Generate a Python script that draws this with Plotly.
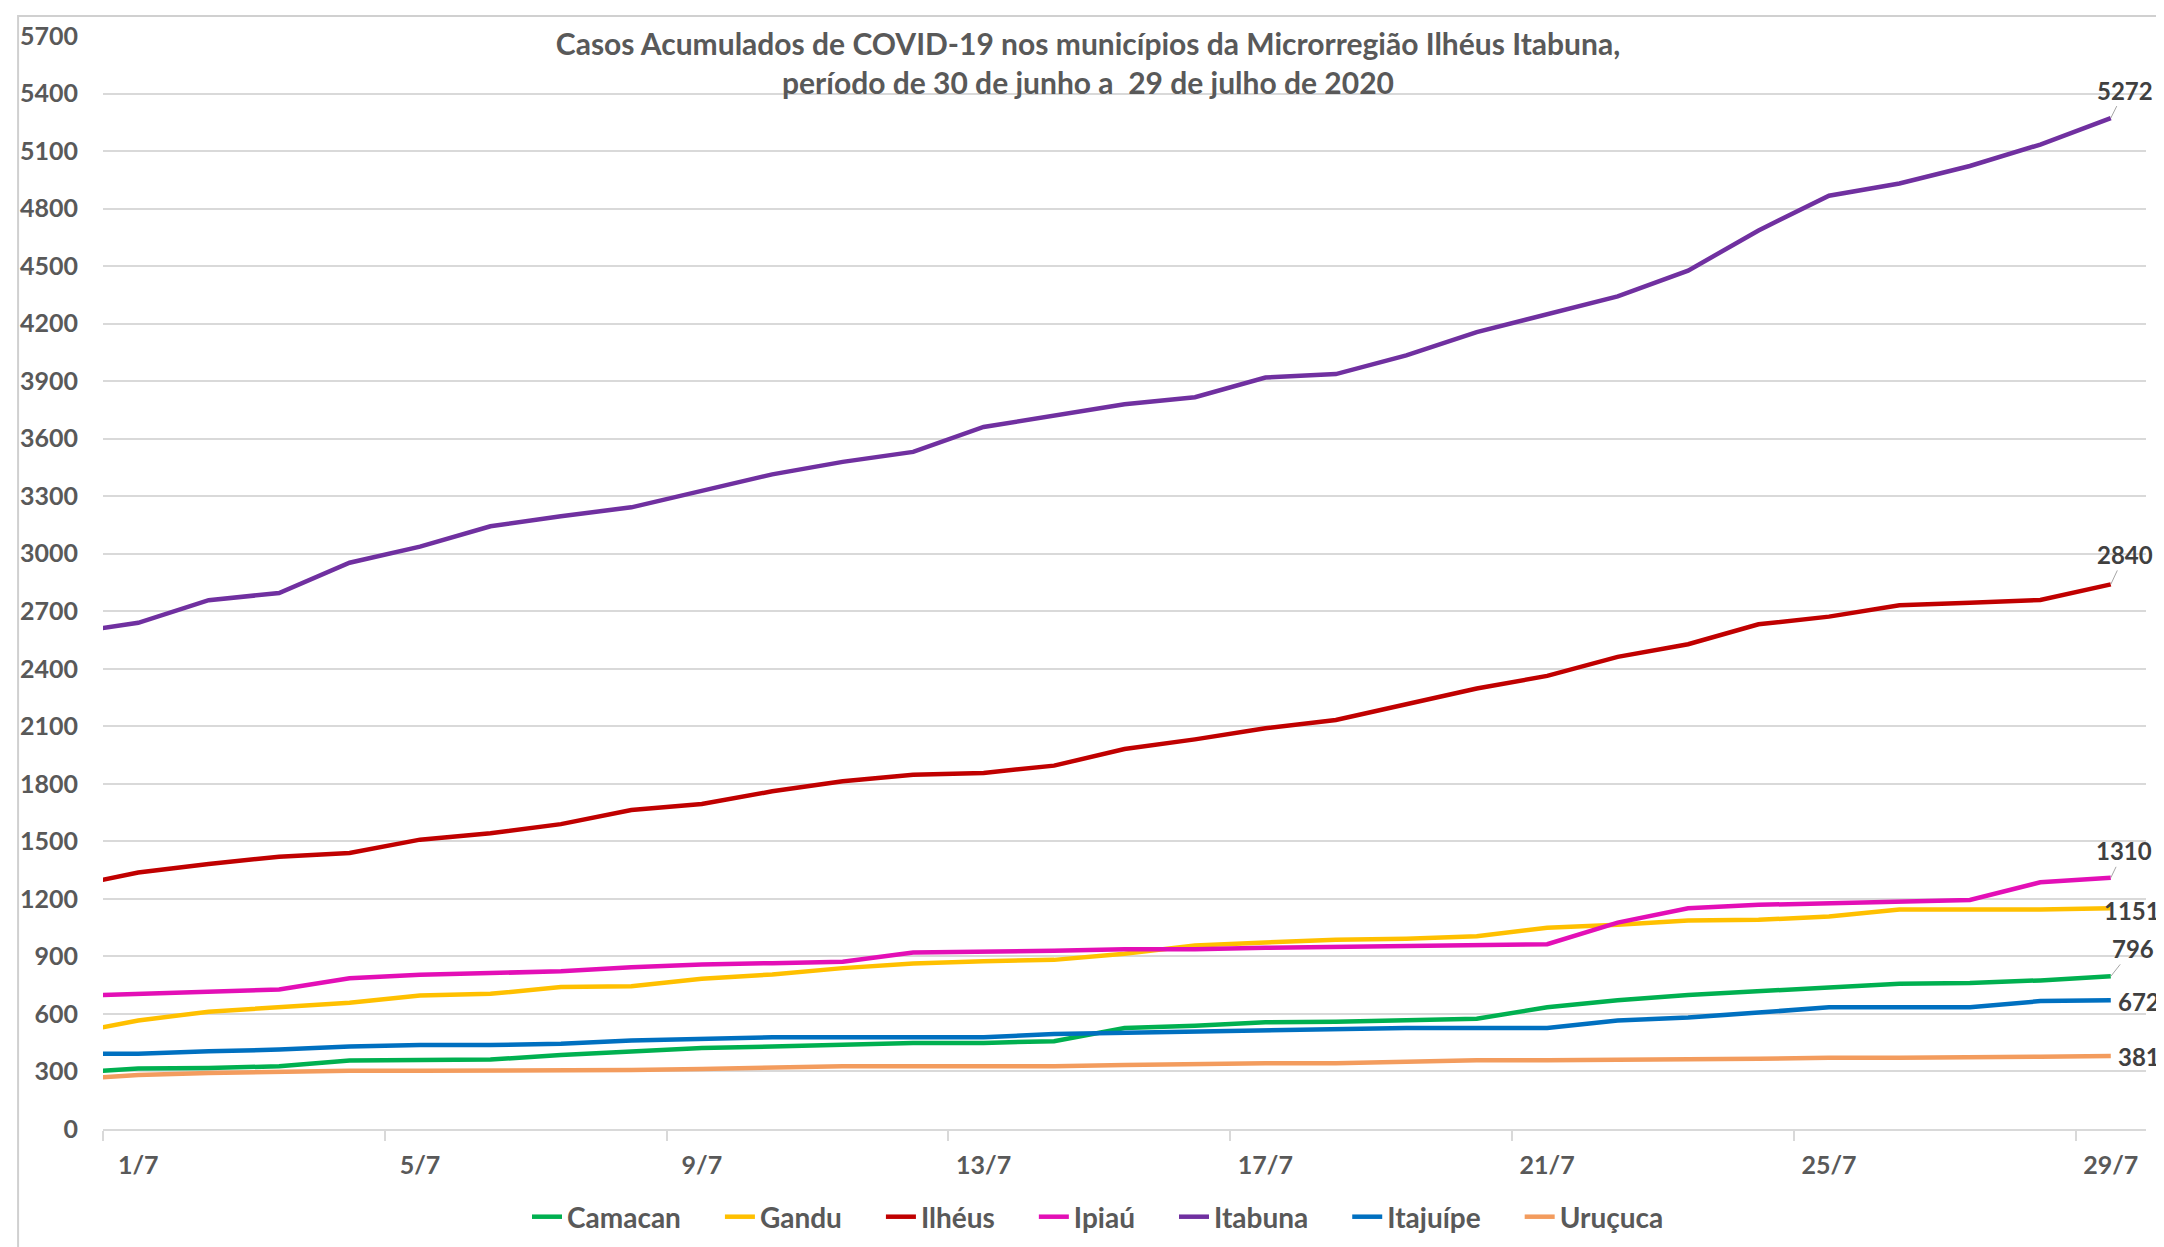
import plotly.graph_objects as go

# Dates of the series (30/6 to 29/7 2020)
DATES = [
    "2020-06-30", "2020-07-01", "2020-07-02", "2020-07-03", "2020-07-04",
    "2020-07-05", "2020-07-06", "2020-07-07", "2020-07-08", "2020-07-09",
    "2020-07-10", "2020-07-11", "2020-07-12", "2020-07-13", "2020-07-14",
    "2020-07-15", "2020-07-16", "2020-07-17", "2020-07-18", "2020-07-19",
    "2020-07-20", "2020-07-21", "2020-07-22", "2020-07-23", "2020-07-24",
    "2020-07-25", "2020-07-26", "2020-07-27", "2020-07-28", "2020-07-29",
]

TICK_DATES = ["2020-07-01", "2020-07-05", "2020-07-09", "2020-07-13",
              "2020-07-17", "2020-07-21", "2020-07-25", "2020-07-29"]
TICK_TEXT = ["1/7", "5/7", "9/7", "13/7", "17/7", "21/7", "25/7", "29/7"]

# Accumulated cases per municipality
camacan = [293, 315, 318, 327, 357, 357, 362, 386, 405, 423,
           430, 440, 449, 449, 458, 527, 539, 557, 559, 567,
           575, 635, 671, 699, 721, 738, 758, 762, 775, 796]
gandu = [496, 566, 612, 635, 658, 696, 705, 740, 745, 783,
         806, 839, 863, 875, 882, 914, 957, 973, 987, 992,
         1005, 1050, 1065, 1087, 1091, 1108, 1145, 1145, 1145, 1151]
ilheus = [1262, 1338, 1382, 1420, 1439, 1509, 1542, 1590, 1664, 1695,
          1761, 1813, 1848, 1857, 1895, 1982, 2032, 2090, 2133, 2218,
          2297, 2363, 2462, 2528, 2632, 2672, 2731, 2745, 2759, 2840]
ipiau = [693, 705, 719, 727, 786, 804, 813, 823, 844, 858,
         865, 872, 920, 924, 929, 938, 938, 945, 950, 955,
         956, 964, 1076, 1151, 1169, 1177, 1186, 1194, 1287, 1310]
itabuna = [2585, 2640, 2758, 2795, 2953, 3037, 3143, 3196, 3242, 3330,
           3414, 3479, 3531, 3661, 3721, 3780, 3816, 3919, 3937, 4034,
           4156, 4249, 4342, 4476, 4686, 4867, 4931, 5022, 5134, 5272]
itajuipe = [392, 392, 405, 414, 430, 438, 438, 445, 461, 470,
            478, 478, 478, 478, 496, 503, 510, 517, 520, 527,
            527, 527, 566, 581, 607, 635, 635, 635, 667, 672]
urucuca = [258, 282, 292, 299, 304, 304, 304, 308, 308, 313,
           322, 327, 327, 327, 327, 334, 339, 343, 343, 351,
           359, 359, 359, 364, 366, 372, 372, 372, 377, 381]

SERIES = [
    ("Camacan", camacan, "#00B050"),
    ("Gandu", gandu, "#FFC000"),
    ("Ilhéus", ilheus, "#C00000"),
    ("Ipiaú", ipiau, "#E30FB6"),
    ("Itabuna", itabuna, "#7030A0"),
    ("Itajuípe", itajuipe, "#0070C0"),
    ("Uruçuca", urucuca, "#F39C5E"),
]

FONT = "Lato"
GRAY = "#595959"
GRID = "#D9D9D9"

W, H = 2164, 1247
ML, MR, MT, MB = 93, 26, 28, 126
PW, PH = W - ML - MR, H - MT - MB

fig = go.Figure()

for i, (name, values, color) in enumerate(SERIES):
    # pad legend entries so the spacing matches the wider Excel legend
    pad = "\u00a0" * 5 if i < len(SERIES) - 1 else ""
    fig.add_trace(go.Scatter(
        x=DATES, y=values, mode="lines", name=name + pad,
        line=dict(color=color, width=4.5),
        hovertemplate=f"{name}: %{{y}}<extra></extra>",
    ))

# End-of-line value labels (some with leader lines, as in the original)
label_offsets = {
    "Itabuna": dict(showarrow=True, ax=14, ay=-28),
    "Ilhéus": dict(showarrow=True, ax=14, ay=-30),
    "Ipiaú": dict(showarrow=True, ax=13, ay=-27),
    "Camacan": dict(showarrow=True, ax=22, ay=-28),
    "Gandu": dict(showarrow=False, xshift=21, yshift=-2),
    "Itajuípe": dict(showarrow=False, xshift=28, yshift=-1),
    "Uruçuca": dict(showarrow=False, xshift=28, yshift=-1),
}
for name, values, color in SERIES:
    opts = label_offsets[name]
    fig.add_annotation(
        x=DATES[-1], y=values[-1], text=f"<b>{values[-1]}</b>",
        font=dict(family=FONT, size=24, color="#404040"),
        arrowhead=0, arrowwidth=1, arrowcolor="#A6A6A6", standoff=0,
        **opts,
    )

fig.update_layout(
    width=W, height=H,
    paper_bgcolor="white", plot_bgcolor="white",
    margin=dict(l=ML, r=MR, t=MT, b=MB),
    title=dict(
        text="<b>Casos Acumulados de COVID-19 nos municípios da Microrregião Ilhéus Itabuna,"
             "<br>período de 30 de junho a  29 de julho de 2020</b>",
        x=1080 / W, xanchor="center", xref="container",
        y=1 - 47 / H, yanchor="middle", yref="container",
        font=dict(family=FONT, size=30, color=GRAY),
    ),
    xaxis=dict(
        type="date",
        range=["2020-06-30 12:00", "2020-07-29 12:00"],
        tickmode="array", tickvals=TICK_DATES, ticktext=TICK_TEXT,
        ticks="", showgrid=False,
        showline=True, linecolor=GRID, linewidth=2,
        tickfont=dict(family=FONT, size=25, color=GRAY, weight="bold"),
        ticklabelstandoff=13,
        minor=dict(tickmode="linear", tick0="2020-06-30 12:00",
                   dtick=4 * 86400000, ticks="outside", ticklen=10,
                   tickcolor=GRID, tickwidth=2, showgrid=False),
    ),
    yaxis=dict(
        range=[0, 5700], dtick=300, tick0=0,
        showgrid=True, gridcolor=GRID, gridwidth=2,
        zeroline=False, showline=False,
        ticks="outside", ticklen=19, tickcolor="rgba(0,0,0,0)",
        tickfont=dict(family=FONT, size=25, color=GRAY, weight="bold"),
    ),
    legend=dict(
        orientation="h", xref="container", yref="container",
        x=1090 / W, xanchor="center", y=38 / H, yanchor="middle",
        font=dict(family=FONT, size=28, color=GRAY, weight="bold"),
        itemwidth=30, tracegroupgap=0,
    ),
    showlegend=True,
    hovermode="x unified",
)

# Thin chart-area border like the Excel frame
fig.add_shape(type="rect", xref="paper", yref="paper",
              x0=(8 - ML) / PW, x1=(W + 20 - ML) / PW,
              y0=-(H + 20 - MT) / PH, y1=1 + (MT - 8) / PH,
              line=dict(color="#D0D0D0", width=2), layer="below")

fig.write_html("out.html")
